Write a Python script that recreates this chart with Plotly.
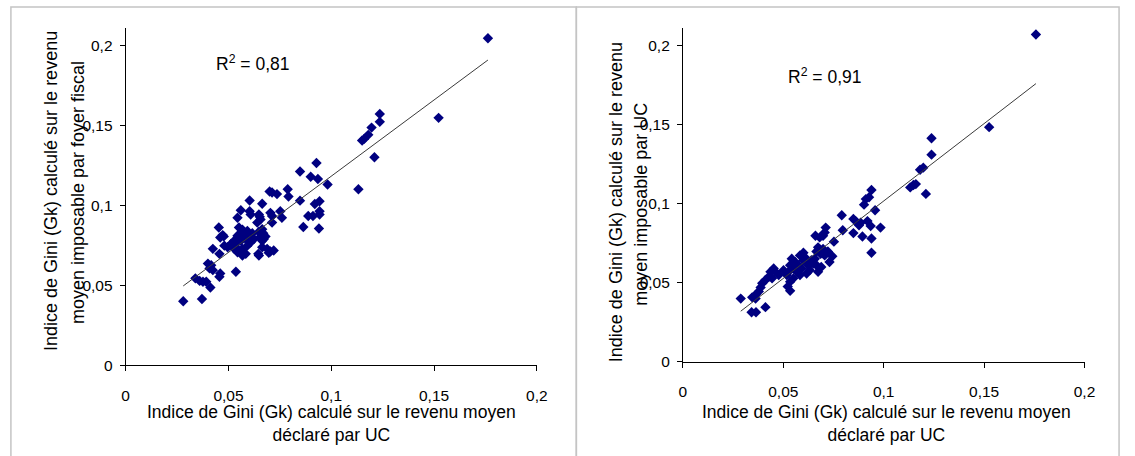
import numpy as np
import plotly.graph_objects as go

# Indice de Gini (Gk) par revenu moyen déclaré par UC (axe x) comparé à
# l'indice calculé sur le revenu imposable par foyer fiscal (graphique 1)
# et sur le revenu imposable par UC (graphique 2).

foyer_x = [
    0.1762, 0.1522, 0.1236, 0.1236, 0.1196, 0.1180, 0.1159, 0.1150, 0.1210, 0.1132,
    0.0928, 0.0848, 0.0900, 0.0935, 0.0982, 0.0848, 0.0920, 0.0943, 0.0700, 0.0712,
    0.0736, 0.0788, 0.0792, 0.0664, 0.0603,
    0.0560, 0.0603, 0.0608, 0.0544, 0.0648, 0.0656, 0.0640, 0.0652, 0.0704, 0.0712,
    0.0712, 0.0752, 0.0760, 0.0888, 0.0911, 0.0943, 0.0943, 0.0940, 0.0864, 0.0453,
    0.0472, 0.0460, 0.0477, 0.0664, 0.0669, 0.0680, 0.0672, 0.0647, 0.0652, 0.0664,
    0.0551, 0.0568, 0.0592, 0.0563, 0.0544, 0.0576, 0.0600, 0.0616, 0.0584, 0.0560,
    0.0544, 0.0528, 0.0512, 0.0496, 0.0536, 0.0568, 0.0592, 0.0608, 0.0624, 0.0584,
    0.0568, 0.0544, 0.0528, 0.0480,
    0.0664, 0.0688, 0.0704, 0.0720, 0.0696, 0.0645, 0.0648,
    0.0424, 0.0456, 0.0400, 0.0416, 0.0408, 0.0424, 0.0460, 0.0456, 0.0536, 0.0339,
    0.0360, 0.0376, 0.0392, 0.0412, 0.0371, 0.0280,
]
foyer_y = [
    0.2043, 0.1546, 0.1570, 0.1521, 0.1485, 0.1440, 0.1413, 0.1405, 0.1300, 0.1100,
    0.1264, 0.1211, 0.1178, 0.1164, 0.1130, 0.1029, 0.1008, 0.1025, 0.1086, 0.1080,
    0.1070, 0.1100, 0.1055, 0.1010, 0.1030,
    0.0969, 0.0963, 0.0943, 0.0922, 0.0943, 0.0912, 0.0892, 0.0928, 0.0953, 0.0933,
    0.0892, 0.0963, 0.0922, 0.0933, 0.0933, 0.0943, 0.0963, 0.0855, 0.0865, 0.0861,
    0.0814, 0.0799, 0.0806, 0.0851, 0.0826, 0.0806, 0.0790, 0.0834, 0.0799, 0.0779,
    0.0861, 0.0847, 0.0840, 0.0820, 0.0810, 0.0810, 0.0814, 0.0826, 0.0790, 0.0779,
    0.0769, 0.0779, 0.0759, 0.0738, 0.0738, 0.0728, 0.0748, 0.0769, 0.0790, 0.0697,
    0.0687, 0.0707, 0.0728, 0.0748,
    0.0738, 0.0728, 0.0712, 0.0718, 0.0704, 0.0697, 0.0687,
    0.0728, 0.0697, 0.0636, 0.0626, 0.0606, 0.0595, 0.0575, 0.0554, 0.0585, 0.0544,
    0.0528, 0.0523, 0.0523, 0.0487, 0.0415, 0.0401,
]

uc_x = [
    0.1758, 0.1525, 0.1238, 0.1238, 0.1181, 0.1197, 0.1132, 0.1148, 0.1160, 0.1210,
    0.0939, 0.0911, 0.0927, 0.0902, 0.0957, 0.0791,
    0.0849, 0.0860, 0.0885, 0.0877, 0.0919, 0.0935, 0.0984, 0.0849, 0.0894, 0.0939,
    0.0939, 0.0796, 0.0711, 0.0706, 0.0698, 0.0681, 0.0660, 0.0752, 0.0673, 0.0698,
    0.0722, 0.0665, 0.0686, 0.0706, 0.0744, 0.0730, 0.0657, 0.0649, 0.0665, 0.0673,
    0.0689, 0.0600, 0.0583, 0.0607,
    0.0542, 0.0559, 0.0534, 0.0575, 0.0591, 0.0550, 0.0526, 0.0567, 0.0583, 0.0550,
    0.0534, 0.0522, 0.0534, 0.0517, 0.0501, 0.0624, 0.0632, 0.0616, 0.0560, 0.0600,
    0.0640, 0.0620,
    0.0452, 0.0436, 0.0460, 0.0477, 0.0428, 0.0444, 0.0411, 0.0395, 0.0387, 0.0378,
    0.0362, 0.0345, 0.0288, 0.0362, 0.0342, 0.0364, 0.0411,
]
uc_y = [
    0.2068, 0.1482, 0.1412, 0.1308, 0.1213, 0.1226, 0.1101, 0.1116, 0.1122, 0.1060,
    0.1085, 0.1027, 0.1039, 0.0992, 0.0957, 0.0925,
    0.0902, 0.0888, 0.0878, 0.0862, 0.0888, 0.0857, 0.0847, 0.0812, 0.0791, 0.0778,
    0.0688, 0.0830, 0.0847, 0.0816, 0.0795, 0.0785, 0.0795, 0.0758, 0.0722, 0.0712,
    0.0696, 0.0696, 0.0681, 0.0671, 0.0666, 0.0629, 0.0650, 0.0619, 0.0609, 0.0567,
    0.0598, 0.0688, 0.0671, 0.0660,
    0.0650, 0.0629, 0.0609, 0.0609, 0.0588, 0.0588, 0.0567, 0.0567, 0.0547, 0.0526,
    0.0505, 0.0474, 0.0447, 0.0547, 0.0578, 0.0609, 0.0578, 0.0557, 0.0600, 0.0640,
    0.0640, 0.0630,
    0.0588, 0.0567, 0.0567, 0.0547, 0.0536, 0.0526, 0.0516, 0.0495, 0.0468, 0.0443,
    0.0422, 0.0406, 0.0398, 0.0398, 0.0312, 0.0312, 0.0344,
]

r2_labels = ["R<sup>2</sup> = 0,81", "R<sup>2</sup> = 0,91"]
tick_vals = [0, 0.05, 0.1, 0.15, 0.2]
tick_text = ["0", "0,05", "0,1", "0,15", "0,2"]
x_title = "Indice de Gini (Gk) calculé sur le revenu moyen<br>déclaré par UC"
y_titles = [
    ("Indice de Gini (Gk) calculé sur le revenu", "moyen imposable par foyer fiscal"),
    ("Indice de Gini (Gk) calculé sur le revenu", "moyen imposable par UC"),
]

W, H = 1135, 456
FONT = "Liberation Sans, Arial, sans-serif"
NAVY = "#000080"


def px(x):
    return x / W


def py(y):
    return 1 - y / H


fig = go.Figure()

panels = [
    dict(xs=foyer_x, ys=foyer_y, xa="x", ya="y",
         xdom=(123.3, 540), ydom=(372, 28), ymax=0.211),
    dict(xs=uc_x, ys=uc_y, xa="x2", ya="y2",
         xdom=(688, 1095), ydom=(368, 28), ymax=0.2112),
]

for p in panels:
    xs = np.array(p["xs"])
    ys = np.array(p["ys"])
    fig.add_trace(go.Scatter(
        x=xs, y=ys, mode="markers", xaxis=p["xa"], yaxis=p["ya"],
        marker=dict(symbol="diamond", size=8, color=NAVY, line=dict(width=0)),
        showlegend=False, hoverinfo="skip",
    ))
    slope, intercept = np.polyfit(xs, ys, 1)
    lx = np.array([xs.min(), xs.max()])
    fig.add_trace(go.Scatter(
        x=lx, y=slope * lx + intercept, mode="lines",
        xaxis=p["xa"], yaxis=p["ya"],
        line=dict(color="#3a3a3a", width=1),
        showlegend=False, hoverinfo="skip",
    ))

axis_common = dict(
    showgrid=False, zeroline=False, showline=True, linecolor="black",
    linewidth=1, ticks="outside", ticklen=5, tickcolor="black", tickwidth=1,
    tickvals=tick_vals, ticktext=tick_text,
    tickfont=dict(family=FONT, size=15.5, color="black"),
)

layout = dict(
    width=W, height=H, margin=dict(l=0, r=0, t=0, b=0),
    paper_bgcolor="white", plot_bgcolor="white",
    font=dict(family=FONT, color="black"),
)
for i, p in enumerate(panels):
    suffix = "" if i == 0 else "2"
    layout["xaxis" + suffix] = dict(
        axis_common, domain=[px(p["xdom"][0]), px(p["xdom"][1])],
        range=[0, 0.2], anchor="y" + suffix, ticklabelstandoff=11,
    )
    layout["yaxis" + suffix] = dict(
        axis_common, domain=[py(p["ydom"][0]), py(p["ydom"][1])],
        range=[0, p["ymax"]], anchor="x" + suffix, ticklabelstandoff=4,
    )
fig.update_layout(**layout)

annotations = []
# R² labels
for (cx, cy), label in zip([(252, 64), (831, 77)], r2_labels):
    annotations.append(dict(
        x=px(cx), y=py(cy), xref="paper", yref="paper", text=label,
        showarrow=False, xanchor="center", yanchor="middle",
        font=dict(family=FONT, size=17.5, color="black"),
    ))
# x titles
for cx in (332, 894):
    annotations.append(dict(
        x=px(cx), y=py(431), xref="paper", yref="paper", text=x_title,
        showarrow=False, xanchor="center", yanchor="middle",
        font=dict(family=FONT, size=17.5, color="black"),
    ))
# y titles, two rotated lines each
for (x1, x2, cy1, cy2), (line1, line2) in zip(
        [(47, 74.5, 194, 196), (621, 646, 206, 208)], y_titles):
    for cx, cy, txt in ((x1, cy1, line1), (x2, cy2, line2)):
        annotations.append(dict(
            x=px(cx), y=py(cy), xref="paper", yref="paper", text=txt,
            showarrow=False, xanchor="center", yanchor="middle", textangle=-90,
            font=dict(family=FONT, size=18, color="black"),
        ))
fig.update_layout(annotations=annotations)

# panel frames
for x0, x1 in ((7, 580), (580, 1130)):
    fig.add_shape(type="rect", xref="paper", yref="paper",
                  x0=px(x0), x1=px(x1), y0=py(470), y1=py(7),
                  line=dict(color="#c4c4c4", width=1.5), layer="below")

fig.write_html("out.html")
